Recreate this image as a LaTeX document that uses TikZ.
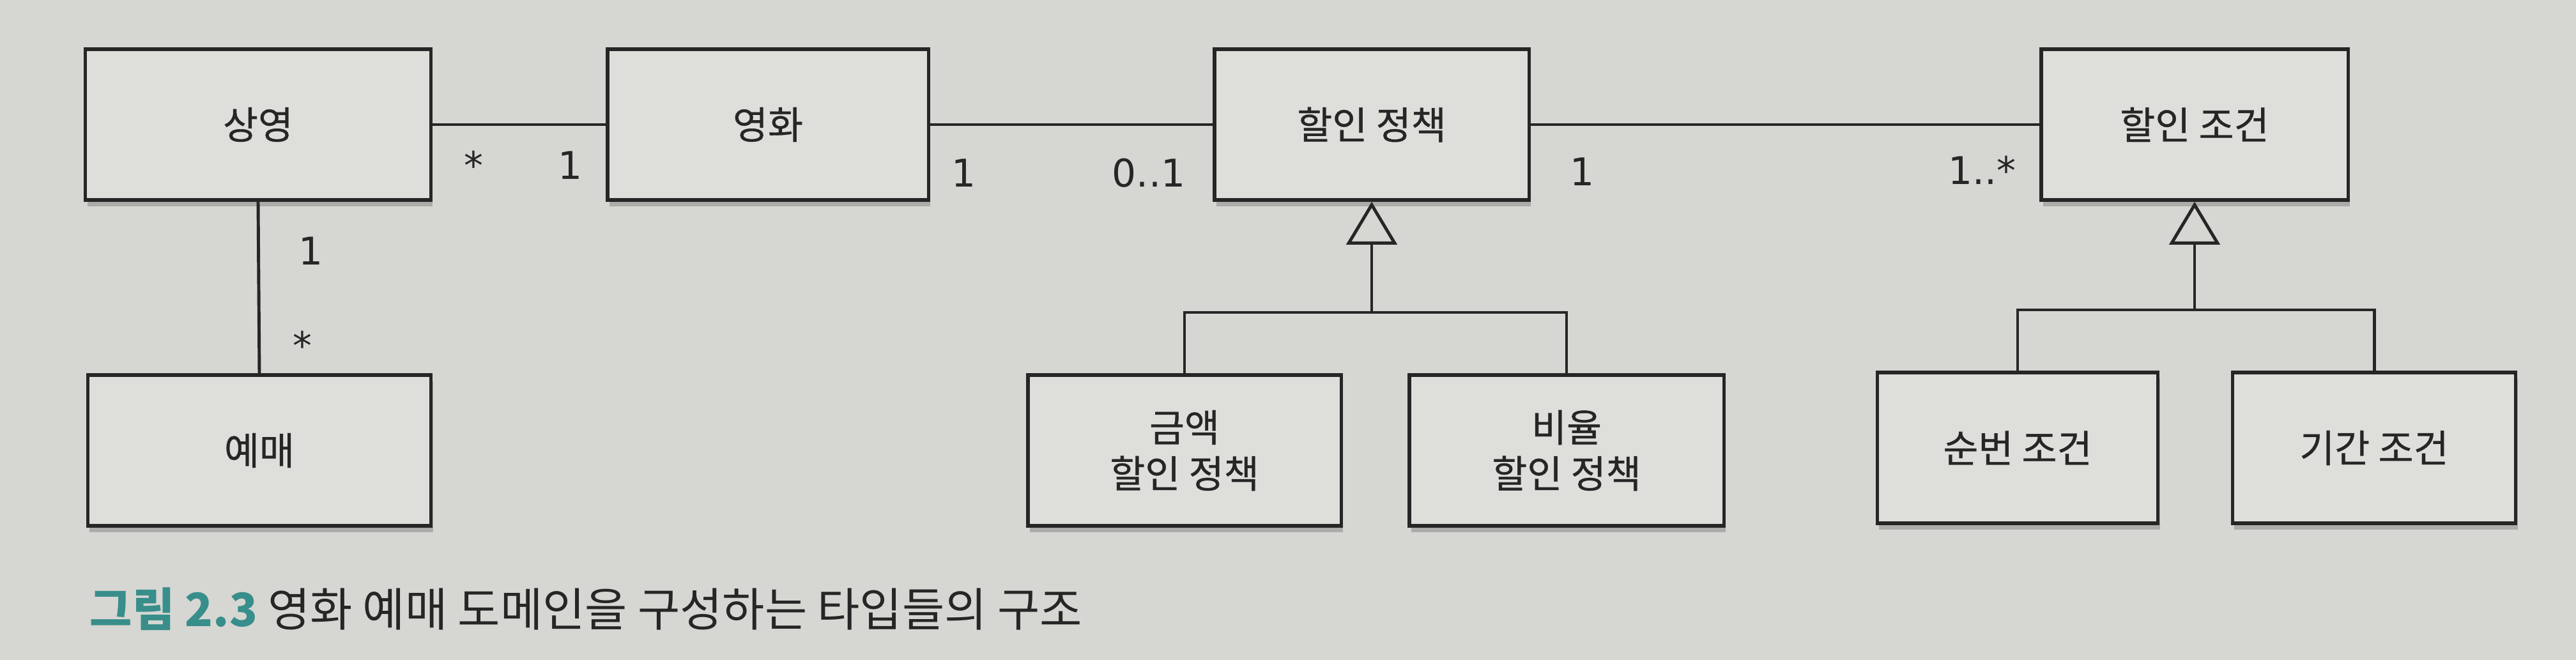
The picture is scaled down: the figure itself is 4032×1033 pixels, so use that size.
\documentclass[tikz,border=0pt]{standalone}
\usepackage{fontspec}
\setmainfont{Noto Sans CJK KR}
\newfontfamily\boxfont{Noto Sans CJK KR}[FakeBold=0.6]
\newfontfamily\multfont{DejaVu Sans}
\usetikzlibrary{arrows.meta,shadows}

\definecolor{paper}{RGB}{214,214,211}
\definecolor{boxfill}{RGB}{222,222,219}
\definecolor{ink}{RGB}{38,38,38}
\definecolor{capteal}{RGB}{56,142,138}

\tikzset{
  classbox/.style={draw=ink, fill=boxfill, line width=1.5pt, inner sep=0pt,
    text=ink, align=center, font=\boxfont\fontsize{17}{20.5}\selectfont,
    minimum height=2.36cm,
    drop shadow={shadow xshift=0.03cm, shadow yshift=-0.1cm,
      opacity=0.3, fill=black!70}},
  assoc/.style={draw=ink, line width=1.4pt},
  mult/.style={text=ink, anchor=base, inner sep=0pt,
    font=\multfont\fontsize{17}{20}\selectfont},
  gen/.style={assoc,
    -{Triangle[open, length=0.67cm, width=0.79cm, line width=1.4pt]}},
}

\begin{document}
\begin{tikzpicture}[x=0.01cm, y=-0.01cm]
  \fill[paper] (0,0) rectangle (4032,1033);
  \useasboundingbox (0,0) rectangle (4032,1033);

  % upper row
  \node[classbox, minimum width=5.40cm] (screening) at (404,195) {상영};
  \node[classbox, minimum width=5.02cm] (movie) at (1202,195) {영화};
  \node[classbox, minimum width=4.92cm] (policy) at (2147,195) {할인 정책};
  \node[classbox, minimum width=4.80cm] (condition) at (3435,195) {할인 조건};

  % lower row
  \node[classbox, minimum width=5.37cm] (reservation) at (406,705) {예매};
  \node[classbox, minimum width=4.90cm] (amount) at (1854,705) {금액\\할인 정책};
  \node[classbox, minimum width=4.92cm] (percent) at (2452,705) {비율\\할인 정책};
  \node[classbox, minimum width=4.39cm] (sequence) at (3158,701) {순번 조건};
  \node[classbox, minimum width=4.43cm] (period) at (3716,701) {기간 조건};

  % associations
  \draw[assoc] (screening.east) -- (movie.west);
  \draw[assoc] (movie.east) -- (policy.west);
  \draw[assoc] (policy.east) -- (condition.west);
  \draw[assoc] (screening.south) -- (reservation.north);

  \node[mult] (sm-many) at (741,280) {*};
  \node[mult] (sm-one) at (893,280) {1};
  \node[mult] (mp-one) at (1509,292) {1};
  \node[mult] (mp-opt) at (1798,292) {0..1};
  \node[mult] (pc-one) at (2476,290) {1};
  \node[mult] (pc-many) at (3102,288) {1..*};
  \node[mult] (sr-one) at (487,414) {1};
  \node[mult] (sr-many) at (473,562) {*};

  % generalizations
  \coordinate (pbar) at (2147,489);
  \draw[assoc] (amount.north) |- (pbar) -| (percent.north);
  \draw[gen] (pbar) -- (policy.south);

  \coordinate (cbar) at (3435,485);
  \draw[assoc] (sequence.north) |- (cbar) -| (period.north);
  \draw[gen] (cbar) -- (condition.south);

  % caption
  \node[anchor=base west, inner sep=0pt, text=ink,
    font=\fontsize{20.5}{24}\selectfont] (caption) at (140,980)
    {{\color{capteal}\bfseries 그림 2.3} 영화 예매 도메인을 구성하는 타입들의 구조};
\end{tikzpicture}
\end{document}
